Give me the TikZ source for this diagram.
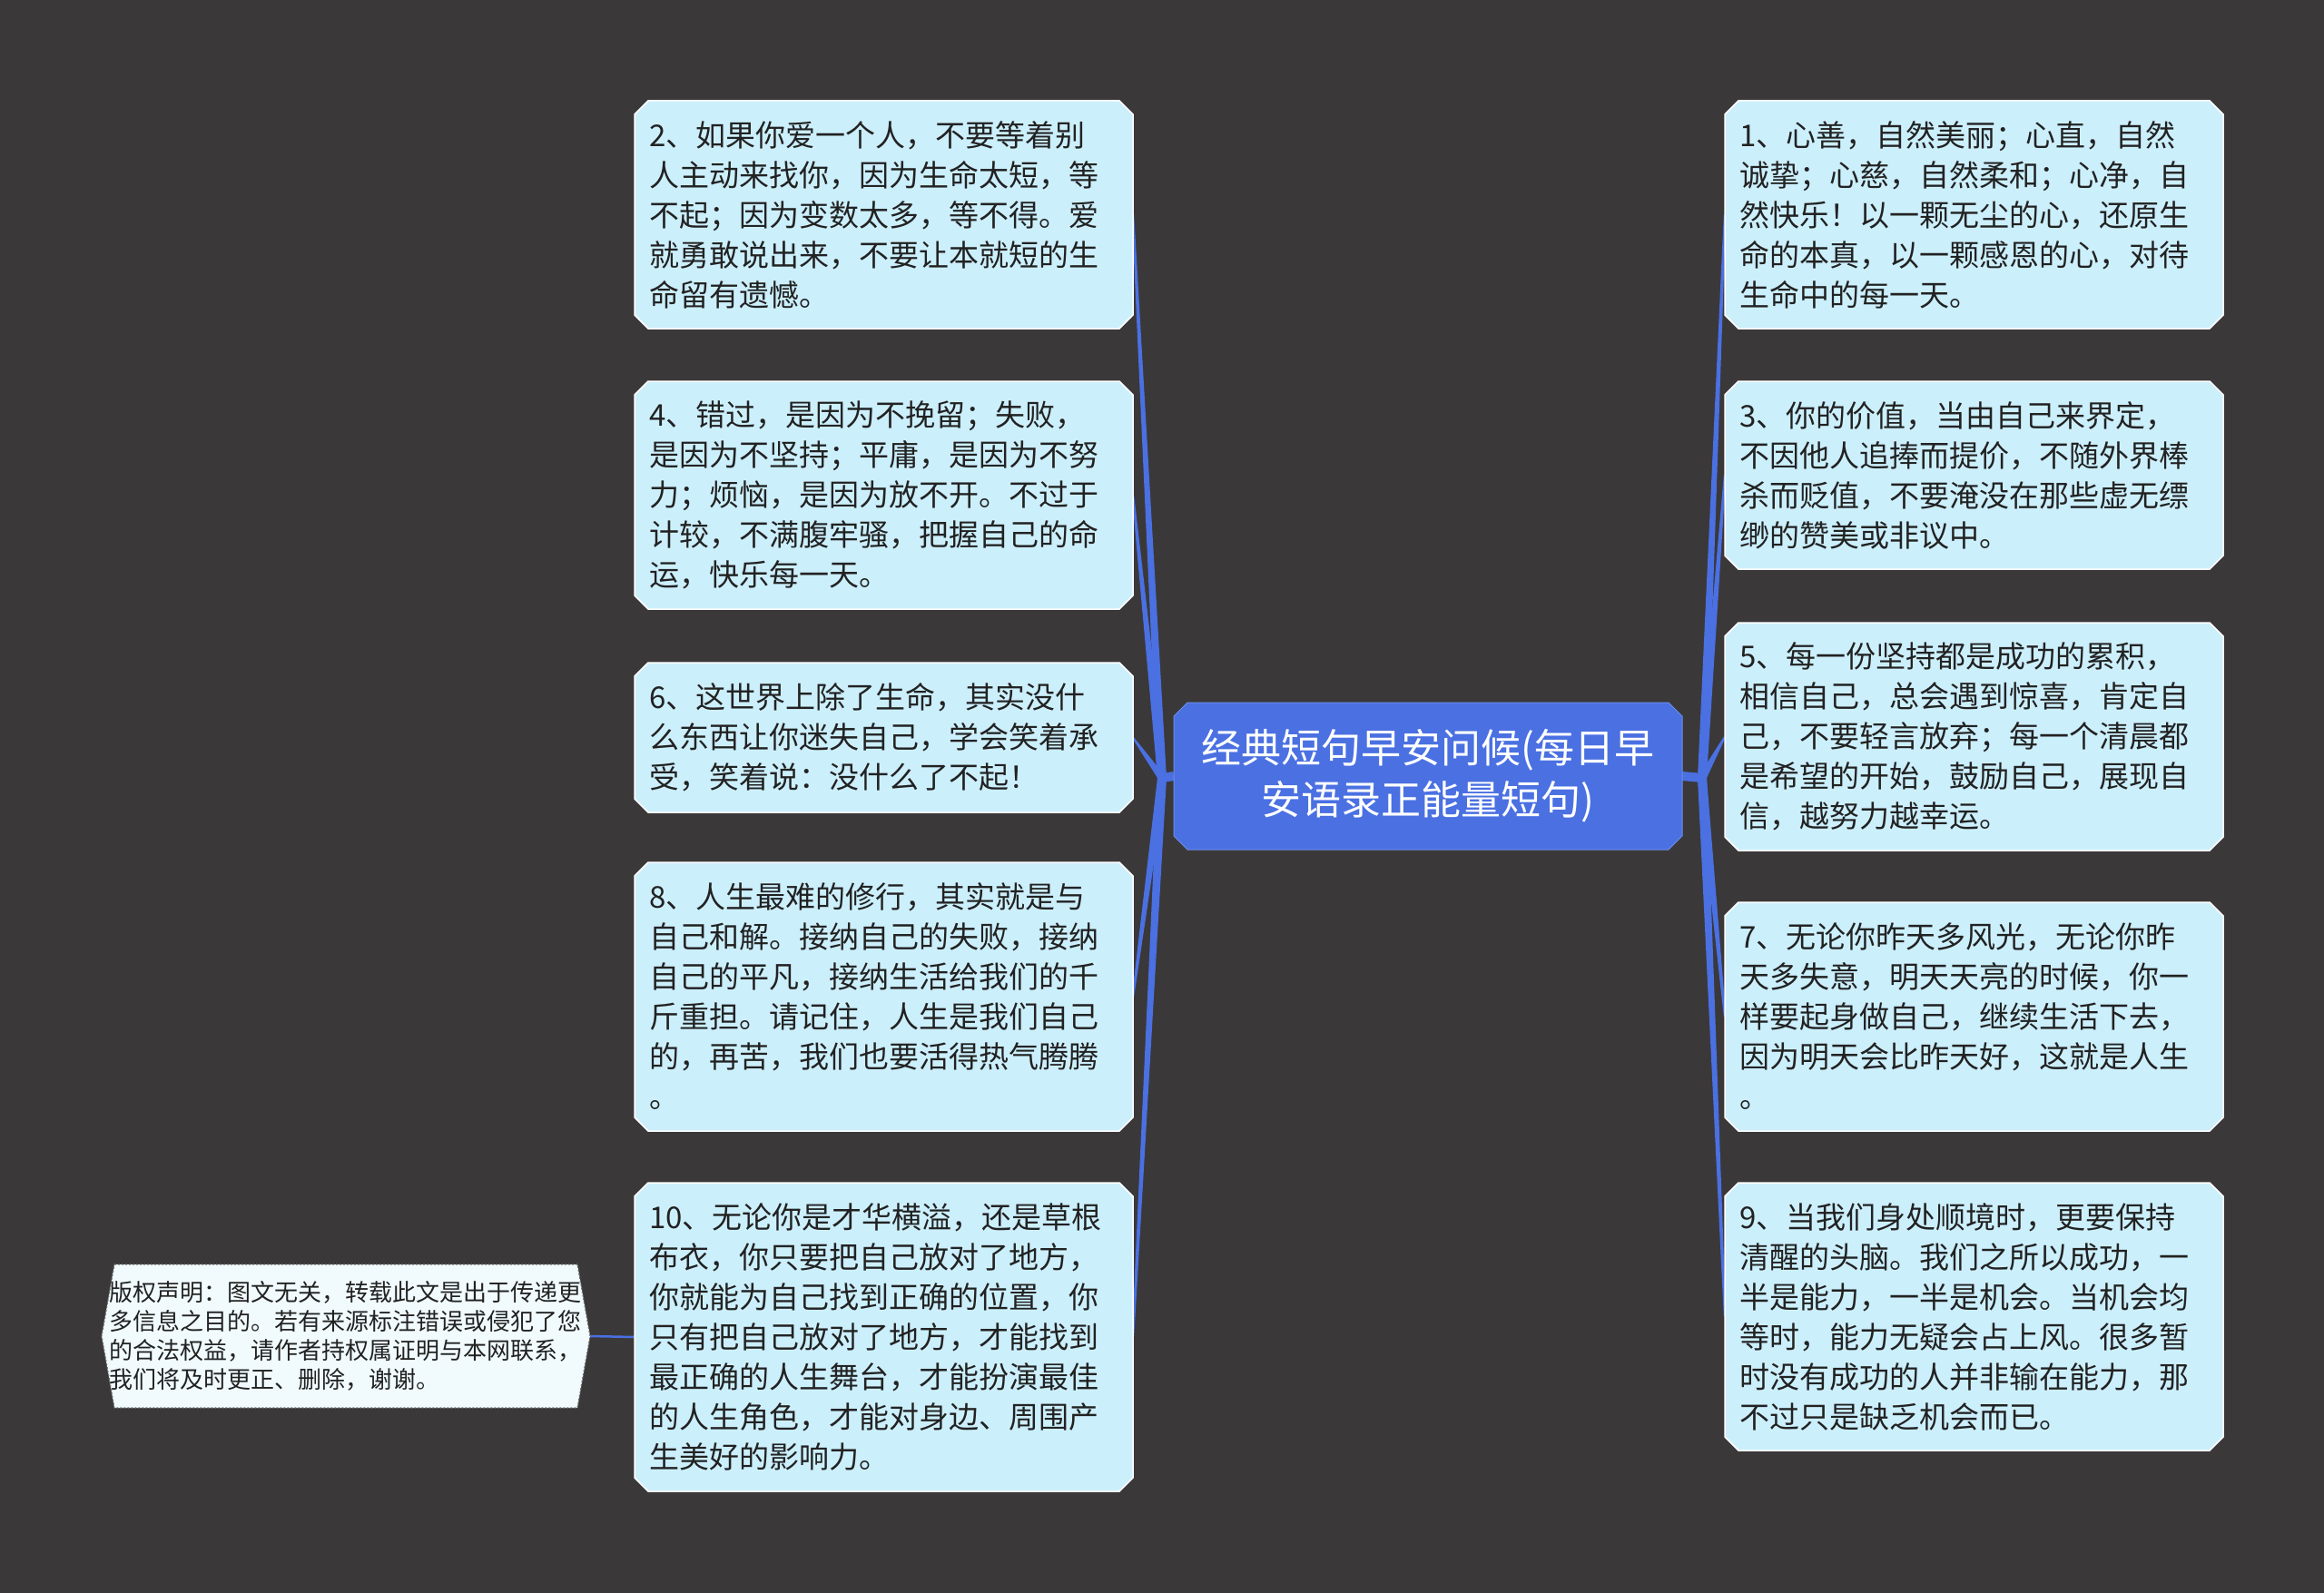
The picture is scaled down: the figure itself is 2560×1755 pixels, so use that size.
\documentclass[tikz,border=0pt]{standalone}
\usepackage{fontspec}
\setmainfont{Noto Sans CJK SC}
\usetikzlibrary{calc}
\definecolor{bgc}{RGB}{58,56,57}
\definecolor{boxfill}{RGB}{204,239,252}
\definecolor{mainblue}{RGB}{74,112,226}
\definecolor{txt}{RGB}{34,34,34}
\definecolor{cpfill}{RGB}{241,251,253}
\definecolor{cpline}{RGB}{110,110,110}
\pgfdeclarelayer{bglayer}
\pgfdeclarelayer{midlayer}
\pgfsetlayers{bglayer,midlayer,main}
\newcommand\chamfbox[3]{%
\begin{pgfonlayer}{midlayer}
\path[#3] ($(#1.north west)+(#2,0)$) -- ($(#1.north east)+(-#2,0)$) -- ($(#1.north east)+(0,#2)$) -- ($(#1.south east)+(0,-#2)$) -- ($(#1.south east)+(-#2,0)$) -- ($(#1.south west)+(#2,0)$) -- ($(#1.south west)+(0,-#2)$) -- ($(#1.north west)+(0,#2)$) -- cycle;
\end{pgfonlayer}}
\newcommand\taper[2]{%
\begin{pgfonlayer}{midlayer}
\fill[mainblue] ($(#1)+(-5,0)$) -- ($(#2)+(-1.2,0)$) -- ($(#2)+(1.2,0)$) -- ($(#1)+(5,0)$) -- cycle;
\end{pgfonlayer}}
\tikzset{
  item/.style={anchor=north west, outer sep=0pt, minimum width=549pt, text width=517pt,
    inner xsep=16pt, inner ysep=0pt, align=left, text=txt,
    font=\fontsize{33pt}{44pt}\selectfont},
  itemshape/.style={fill=boxfill, draw=white, line width=1.5pt},
  centershape/.style={fill=mainblue, draw=mainblue!80!white, line width=1pt},
}
\begin{document}
\begin{tikzpicture}[x=1pt,y=-1pt]
\useasboundingbox (0,0) rectangle (2560,1755);
\begin{pgfonlayer}{bglayer}
\fill[bgc] (0,0) rectangle (2560,1755);
\end{pgfonlayer}

% centre
\node[outer sep=0pt, minimum width=560pt, minimum height=162pt, align=center, text=white,
  font=\fontsize{44pt}{57pt}\selectfont, inner sep=0pt] (c) at (1573,855)
  {经典短句早安问候(每日早\\安语录正能量短句)};

% left boxes
\node[item, minimum height=251pt] (b2) at (699,111) {2、如果你爱一个人，不要等着别\\人主动来找你，因为生命太短，等\\不起；因为变数太多，等不得。爱\\就勇敢说出来，不要让本就短的生\\命留有遗憾。};
\node[item, minimum height=251pt] (b4) at (699,420) {4、错过，是因为不挽留；失败，\\是因为不坚持；平庸，是因为不努\\力；烦恼，是因为放不开。不过于\\计较，不满腹牢骚，把握自己的命\\运，快乐每一天。};
\node[item, minimum height=165pt] (b6) at (699,730) {6、这世界上除了生命，其实没什\\么东西让你迷失自己，学会笑着承\\受，笑着说：没什么了不起！};
\node[item, minimum height=296pt] (b8) at (699,950) {8、人生最难的修行，其实就是与\\自己和解。接纳自己的失败，接纳\\自己的平凡，接纳生活给我们的千\\斤重担。请记住，人生是我们自己\\的，再苦，我们也要活得热气腾腾\\。};
\node[item, minimum height=340pt] (b10) at (699,1303) {10、无论你是才华横溢，还是草根\\布衣，你只要把自己放对了地方，\\你就能为自己找到正确的位置，你\\只有把自己放对了地方，才能找到\\最正确的人生舞台，才能扮演最佳\\的人生角色，才能对身边、周围产\\生美好的影响力。};

% right boxes
\node[item, minimum height=251pt] (b1) at (1900,111) {1、心善，自然美丽；心直，自然\\诚挚；心慈，自然柔和；心净，自\\然快乐！以一颗无尘的心，还原生\\命的本真，以一颗感恩的心，对待\\生命中的每一天。};
\node[item, minimum height=207pt] (b3) at (1900,420) {3、你的价值，当由自己来界定，\\不因他人追捧而提价，不随外界棒\\杀而贬值，不要淹没在那些虚无缥\\缈的赞美或非议中。};
\node[item, minimum height=251pt] (b5) at (1900,686) {5、每一份坚持都是成功的累积，\\相信自己，总会遇到惊喜，肯定自\\己，不要轻言放弃；每一个清晨都\\是希望的开始，鼓励自己，展现自\\信，越努力越幸运。};
\node[item, minimum height=252pt] (b7) at (1900,994) {7、无论你昨天多风光，无论你昨\\天多失意，明天天亮的时候，你一\\样要起身做自己，继续生活下去，\\因为明天会比昨天好，这就是人生\\。};
\node[item, minimum height=295pt] (b9) at (1900,1303) {9、当我们身处顺境时，更要保持\\清醒的头脑。我们之所以成功，一\\半是能力，一半是机会。当机会均\\等时，能力无疑会占上风。很多暂\\时没有成功的人并非输在能力，那\\不过只是缺乏机会而已。};

% copyright note
\node[outer sep=0pt, minimum height=158pt, text width=522pt, inner sep=0pt, align=left, text=txt,
  font=\fontsize{26pt}{32pt}\selectfont] (cp) at (381,1472)
  {版权声明：图文无关，转载此文是出于传递更\\多信息之目的。若有来源标注错误或侵犯了您\\的合法权益，请作者持权属证明与本网联系，\\我们将及时更正、删除，谢谢。};

% junctions
\coordinate (jl) at (1280,857);
\coordinate (jr) at (1875,857);

% connectors
\begin{pgfonlayer}{midlayer}
\draw[mainblue, line width=10pt] (c.west) -- (jl);
\draw[mainblue, line width=10pt] (c.east) -- (jr);
\draw[mainblue, line width=2.5pt] (b10.west) -- ($(cp.east)+(8,0)$);
\end{pgfonlayer}
\taper{jl}{b2.east}
\taper{jl}{b4.east}
\taper{jl}{b6.east}
\taper{jl}{b8.east}
\taper{jl}{b10.east}
\taper{jr}{b1.west}
\taper{jr}{b3.west}
\taper{jr}{b5.west}
\taper{jr}{b7.west}
\taper{jr}{b9.west}

% shapes
\chamfbox{c}{15}{centershape}
\chamfbox{b2}{15}{itemshape}
\chamfbox{b4}{15}{itemshape}
\chamfbox{b6}{15}{itemshape}
\chamfbox{b8}{15}{itemshape}
\chamfbox{b10}{15}{itemshape}
\chamfbox{b1}{15}{itemshape}
\chamfbox{b3}{15}{itemshape}
\chamfbox{b5}{15}{itemshape}
\chamfbox{b7}{15}{itemshape}
\chamfbox{b9}{15}{itemshape}
\begin{pgfonlayer}{midlayer}
\path[fill=cpfill, draw=cpline, line width=1.2pt, dash pattern=on 2pt off 2pt]
  ($(cp.north west)+(6,0)$) -- ($(cp.north east)+(-6,0)$) -- ($(cp.east)+(8,0)$) --
  ($(cp.south east)+(-6,0)$) -- ($(cp.south west)+(6,0)$) -- ($(cp.west)+(-8,0)$) -- cycle;
\end{pgfonlayer}
\end{tikzpicture}
\end{document}
